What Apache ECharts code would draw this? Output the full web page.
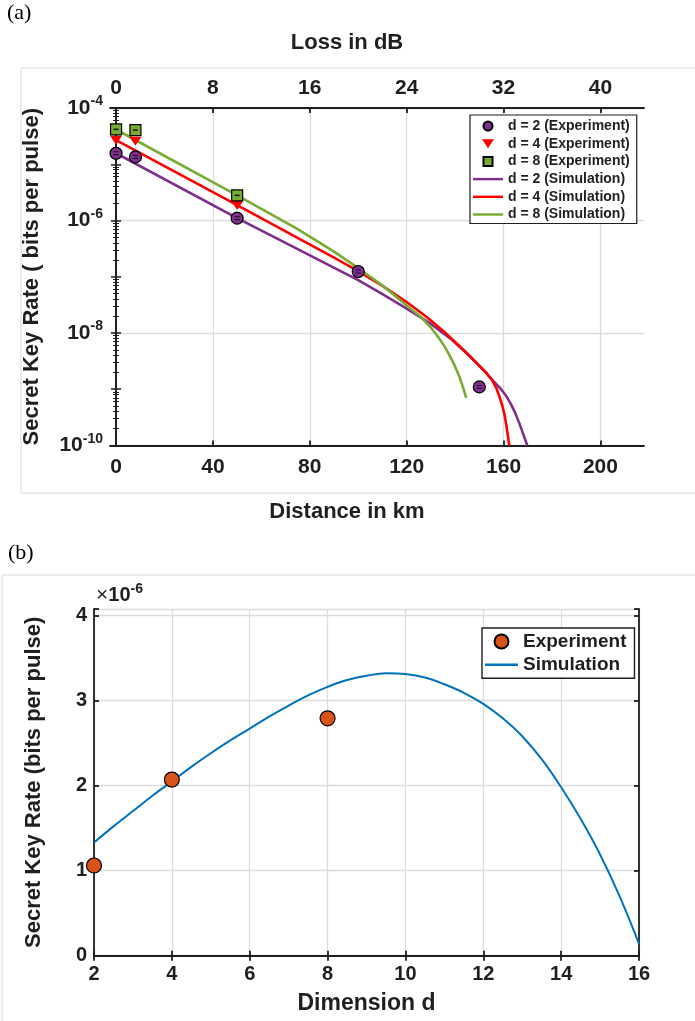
<!DOCTYPE html>
<html><head><meta charset="utf-8">
<script src="https://cdn.jsdelivr.net/npm/echarts@6/dist/echarts.min.js"></script>
<style>html,body{margin:0;padding:0;background:#fff}#c{width:695px;height:1021px}</style>
</head><body><div id="c"></div>
<script>
// ---------- Panel (a): secret key rate vs distance ----------
const expD2 = [[0,1.57e-5],[8,1.35e-5],[50,1.1e-6],[100,1.24e-7],[150,1.1e-9]];
const expD4 = [[0,2.68e-5],[8,2.57e-5],[50,1.85e-6]];
const expD8 = [[0,4.17e-5],[8,4.05e-5],[50,2.8e-6]];
const simD2 = [[0,1.57e-5],[50,1.1e-6],[100,8.7e-8],[110,4.9e-8],[120,2.7e-8],[130,1.45e-8],[137.7,8.2e-9],[144,4.7e-9],[149,2.9e-9],[153,1.9e-9],[156.5,1.3e-9],[159,1.0e-9],[161.1,7.6e-10],[163,5.5e-10],[164.8,3.8e-10],[166.5,2.5e-10],[167.8,1.75e-10],[169,1.25e-10],[169.8,1e-10]];
const simD4 = [[0,2.68e-5],[50,1.87e-6],[90,2.19e-7],[100,1.26e-7],[110,6.9e-8],[120,3.55e-8],[128,1.97e-8],[135,1.1e-8],[141,6.3e-9],[146,3.9e-9],[150,2.6e-9],[153,1.95e-9],[155.3,1.45e-9],[157,1.05e-9],[158.5,7.0e-10],[159.6,4.9e-10],[160.4,3.5e-10],[161.1,2.4e-10],[161.7,1.6e-10],[162.1,1.2e-10],[162.4,1e-10]];
const simD8 = [[0,4.15e-5],[50,2.8e-6],[75,7.0e-7],[90,2.8e-7],[100,1.42e-7],[110,7.0e-8],[120.8,2.9e-8],[126,1.9e-8],[130,1.25e-8],[133,8.5e-9],[135.5,5.9e-9],[137.7,4.0e-9],[139.8,2.65e-9],[141.7,1.7e-9],[143.3,1.07e-9],[144.6,7e-10]];
const kmRange = [-2.5, 218];      // distance axis limits (km)
const dbPerKm = 0.2;              // loss axis = 0.2 dB/km
const kmTicks = [0,40,80,120,160,200];
const dbTicks = [0,8,16,24,32,40];
const rateRange = [1e-10, 1e-4];
const legendA = ['d = 2 (Experiment)','d = 4 (Experiment)','d = 8 (Experiment)','d = 2 (Simulation)','d = 4 (Simulation)','d = 8 (Simulation)'];

// ---------- Panel (b): secret key rate vs dimension (x1e-6) ----------
const dimSim  = [2,2.5,3,3.5,4,4.5,5,5.5,6,6.5,7,7.5,8,8.5,9,9.5,10,10.5,11,11.5,12,12.5,13,13.5,14,14.5,15,15.5,16];
const rateSim = [1.33,1.52,1.70,1.88,2.05,2.22,2.38,2.53,2.67,2.81,2.94,3.06,3.16,3.24,3.29,3.32,3.31,3.27,3.19,3.09,2.96,2.79,2.58,2.31,1.98,1.61,1.19,0.70,0.14];
const dimExp  = [2,4,8];
const rateExp = [1.06,2.07,2.79];
const dimRange = [2,16];
const rateRangeB = [0,4.075];

const FF = '"Liberation Sans", Arial, sans-serif';
const INK = '#1f1f1f';
const GRIDC = '#dcdcdc';
const C2 = '#7E2F8E', C4 = '#FF0000', C8 = '#77AC30';
const LINE_ICON = 'path://M0,0H30V2.4H0Z';

const expFmt = v => { const e = Math.round(Math.log10(v)); return (e % 2 === 0) ? '{b|10}{s|' + e + '}' : ''; };
const richExp = { b:{fontSize:21,fontWeight:'bold',fontFamily:FF,color:INK}, s:{fontSize:14,fontWeight:'bold',fontFamily:FF,color:INK,padding:[0,0,13,0]} };
const intFmt = v => (Math.abs(v - Math.round(v)) < 1e-6) ? String(Math.round(v)) : '';

const lbl = (size) => ({color:INK,fontSize:size,fontWeight:'bold',fontFamily:FF});
const axLine = {show:true,lineStyle:{color:INK,width:1.8}};
const simLine = (name, data, color) => ({name, type:'line', xAxisIndex:0, yAxisIndex:0, data, smooth:false,
  showSymbol:false, symbol:'none', lineStyle:{color, width:2.6, join:'round'}, itemStyle:{color}, z:3});

const option = {
  backgroundColor:'#fff',
  animation:false,
  graphic:[
    {type:'rect',shape:{x:21,y:68,width:700,height:425},style:{fill:'none',stroke:'#d9d9d9',lineWidth:1},silent:true},
    {type:'rect',shape:{x:2,y:575,width:700,height:470},style:{fill:'none',stroke:'#d9d9d9',lineWidth:1},silent:true},
    {type:'text',left:7,top:2,style:{text:'(a)',font:'22px "Liberation Serif", serif',fill:'#000'}},
    {type:'text',left:8,top:542,style:{text:'(b)',font:'22px "Liberation Serif", serif',fill:'#000'}},
    {type:'text',left:96,top:582,style:{text:'{x|×}{b|10}{s|-6}',rich:{x:{fontSize:21,fontFamily:FF,fill:INK},b:{fontSize:20,fontWeight:'bold',fontFamily:FF,fill:INK},s:{fontSize:14,fontWeight:'bold',fontFamily:FF,fill:INK,padding:[0,0,12,0]}}}}
  ],
  grid:[
    {left:110,right:51,top:108,bottom:575.5},
    {left:94,right:56,top:609,bottom:65.3}
  ],
  legend:[
    {data:[
        {name:legendA[0],icon:'circle'},
        {name:legendA[1],icon:'path://M0,0H12L6,9Z'},
        {name:legendA[2],icon:'path://M0,0H10V10H0Z'},
        {name:legendA[3],icon:LINE_ICON},
        {name:legendA[4],icon:LINE_ICON},
        {name:legendA[5],icon:LINE_ICON}],
     orient:'vertical',left:470,top:115,itemWidth:30,itemHeight:9,itemGap:3.7,
     padding:[4,7,2,3],borderColor:INK,borderWidth:1.2,backgroundColor:'#fff',
     textStyle:{color:INK,fontSize:14,fontWeight:'bold',fontFamily:FF}},
    {data:[{name:'Experiment',icon:'circle'},{name:'Simulation',icon:LINE_ICON}],
     orient:'vertical',left:482,top:628,itemWidth:33,itemHeight:14,itemGap:4.3,
     padding:[4,8,4,3],borderColor:INK,borderWidth:1.4,backgroundColor:'#fff',
     textStyle:{color:INK,fontSize:19,fontWeight:'bold',fontFamily:FF}}
  ],
  xAxis:[
    {type:'value',gridIndex:0,position:'bottom',min:kmRange[0],max:kmRange[1],
     name:'Distance in km',nameLocation:'middle',nameGap:55,nameTextStyle:Object.assign(lbl(22),{padding:[0,60,0,0]}),
     axisLine:axLine,axisTick:{show:true,inside:true,length:5,customValues:kmTicks,lineStyle:{color:INK,width:1.8}},
     axisLabel:Object.assign(lbl(21),{margin:11,customValues:kmTicks}),
     splitLine:{show:true,lineStyle:{color:GRIDC,width:1.3}}},
    {type:'value',gridIndex:0,position:'top',min:kmRange[0]*dbPerKm,max:kmRange[1]*dbPerKm,
     name:'Loss in dB',nameLocation:'middle',nameGap:54,nameTextStyle:Object.assign(lbl(22),{padding:[0,60,0,0]}),
     axisLine:axLine,axisTick:{show:true,inside:true,length:5,customValues:dbTicks,lineStyle:{color:INK,width:1.8}},
     axisLabel:Object.assign(lbl(21),{margin:9,customValues:dbTicks}),
     splitLine:{show:false}},
    {type:'value',gridIndex:1,position:'bottom',min:dimRange[0],max:dimRange[1],interval:2,
     name:'Dimension d',nameLocation:'middle',nameGap:36,nameTextStyle:lbl(23),
     axisLine:axLine,axisTick:{show:true,inside:true,length:5,lineStyle:{color:INK,width:1.8}},
     axisLabel:Object.assign(lbl(20),{margin:9}),
     splitLine:{show:true,lineStyle:{color:GRIDC,width:1.3}}},
    {type:'value',gridIndex:1,position:'top',min:dimRange[0],max:dimRange[1],interval:2,
     axisLine:axLine,axisTick:{show:true,inside:true,length:5,lineStyle:{color:INK,width:1.8}},
     axisLabel:{show:false},splitLine:{show:false}}
  ],
  yAxis:[
    {type:'log',logBase:10,gridIndex:0,position:'left',min:rateRange[0],max:rateRange[1],interval:1,
     name:'Secret Key Rate ( bits per pulse)',nameLocation:'middle',nameGap:67,nameTextStyle:lbl(22),
     axisLine:axLine,axisTick:{show:true,inside:true,length:5,lineStyle:{color:INK,width:1.5}},
     minorTick:{show:true,splitNumber:9,length:3,lineStyle:{color:INK,width:1}},
     axisLabel:{margin:7,formatter:expFmt,rich:richExp},
     splitLine:{show:false}},
    {type:'log',logBase:10,gridIndex:0,position:'right',min:rateRange[0],max:rateRange[1],interval:1,
     axisLine:axLine,axisTick:{show:true,inside:true,length:5,lineStyle:{color:INK,width:1.5}},
     minorTick:{show:true,splitNumber:9,length:3,lineStyle:{color:INK,width:1}},
     axisLabel:{show:false},splitLine:{show:false}},
    {type:'log',logBase:10,gridIndex:0,position:'left',min:rateRange[0],max:rateRange[1],interval:2,
     axisLine:{show:false},axisTick:{show:false},axisLabel:{show:false},
     splitLine:{show:true,lineStyle:{color:GRIDC,width:1.3}}},
    {type:'value',gridIndex:1,position:'left',min:rateRangeB[0],max:rateRangeB[1],interval:1,
     name:'Secret Key Rate (bits per pulse)',nameLocation:'middle',nameGap:49,nameTextStyle:lbl(22),
     axisLine:axLine,axisTick:{show:true,inside:true,length:5,lineStyle:{color:INK,width:1.8}},
     axisLabel:Object.assign(lbl(20),{margin:7,formatter:intFmt}),
     splitLine:{show:true,lineStyle:{color:GRIDC,width:1.3}}},
    {type:'value',gridIndex:1,position:'right',min:rateRangeB[0],max:rateRangeB[1],interval:1,
     axisLine:axLine,axisTick:{show:true,inside:true,length:5,lineStyle:{color:INK,width:1.8}},
     axisLabel:{show:false},splitLine:{show:false}}
  ],
  series:[
    simLine('d = 2 (Simulation)', simD2, C2),
    simLine('d = 4 (Simulation)', simD4, C4),
    simLine('d = 8 (Simulation)', simD8, C8),
    {name:'d = 2 (Experiment)',type:'scatter',xAxisIndex:0,yAxisIndex:0,data:expD2,symbol:'circle',symbolSize:12,itemStyle:{color:C2,borderColor:'#000',borderWidth:1.2,opacity:1},z:5},
    {name:'d = 4 (Experiment)',type:'scatter',xAxisIndex:0,yAxisIndex:0,data:expD4,symbol:'triangle',symbolRotate:180,symbolSize:[12,9],itemStyle:{color:C4,opacity:1},z:5},
    {name:'d = 8 (Experiment)',type:'scatter',xAxisIndex:0,yAxisIndex:0,data:expD8,symbol:'rect',symbolSize:11,itemStyle:{color:C8,borderColor:'#000',borderWidth:1.2,opacity:1},z:5},
    {name:'errD2',type:'scatter',xAxisIndex:0,yAxisIndex:0,data:expD2,symbol:'path://M0,0H10V1.4H0ZM0,3.6H10V5H0Z',symbolSize:[5,4],itemStyle:{color:'#000'},z:6,silent:true},
    {name:'errD8',type:'scatter',xAxisIndex:0,yAxisIndex:0,data:expD8,symbol:'path://M0,0H10V2H0Z',symbolSize:[5,1.6],itemStyle:{color:'#000'},z:6,silent:true},
    {name:'Simulation',type:'line',xAxisIndex:2,yAxisIndex:3,data:dimSim.map((d,i)=>[d,rateSim[i]]),smooth:0.4,showSymbol:false,symbol:'none',lineStyle:{color:'#0072BD',width:2},itemStyle:{color:'#0072BD'},z:3},
    {name:'Experiment',type:'scatter',xAxisIndex:2,yAxisIndex:3,data:dimExp.map((d,i)=>[d,rateExp[i]]),symbol:'circle',symbolSize:15,itemStyle:{color:'#D95319',borderColor:'#000',borderWidth:1.2,opacity:1},z:5}
  ]
};
const chart = echarts.init(document.getElementById('c'),null,{renderer:'canvas'});
chart.setOption(option);
</script></body></html>
